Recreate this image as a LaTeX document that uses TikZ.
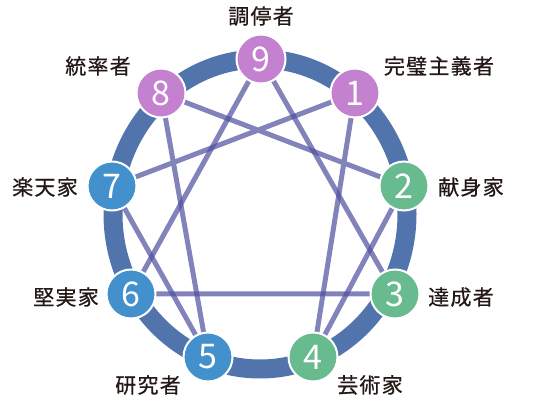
\documentclass[tikz,border=0pt]{standalone}
\usepackage{fontspec}
\setmainfont{Noto Sans CJK JP}
\newfontfamily\namefont{Noto Sans CJK JP}[LetterSpace=6, FakeBold=0.6]
\usetikzlibrary{backgrounds}
\definecolor{ringblue}{HTML}{5274AC}
\definecolor{linkblue}{HTML}{4F4FA0}
\definecolor{headpurple}{HTML}{C481CF}
\definecolor{heartgreen}{HTML}{68BB8E}
\definecolor{mindblue}{HTML}{4391CC}
\definecolor{inkbrown}{HTML}{231815}
\begin{document}
\begin{tikzpicture}[x=1pt, y=-1pt,
    point/.style={circle, draw=white, line width=2pt, minimum size=49pt, inner sep=0pt,
        text=white, font=\fontsize{34}{34}\selectfont},
    typename/.style={text=inkbrown, font=\namefont\fontsize{21}{21}\selectfont, inner sep=0pt},
    link/.style={draw=linkblue, line width=5pt, opacity=0.7},
    ring/.style={draw=ringblue, line width=19pt}
]
\useasboundingbox (0,0) rectangle (551,411);
% numbered points
\node[point, fill=headpurple] (n9) at (261,59)  {9};
\node[point, fill=headpurple] (n8) at (161,93)  {8};
\node[point, fill=headpurple] (n1) at (355,93)  {1};
\node[point, fill=mindblue]   (n7) at (112,186) {7};
\node[point, fill=heartgreen] (n2) at (404,186) {2};
\node[point, fill=mindblue]   (n6) at (131,294) {6};
\node[point, fill=heartgreen] (n3) at (395,294) {3};
\node[point, fill=mindblue]   (n5) at (208,357) {5};
\node[point, fill=heartgreen] (n4) at (313,357) {4};
% type names
\node[typename] (t9) at (261,16)  {調停者};
\node[typename] (t8) at (98,66)   {統率者};
\node[typename] (t1) at (439,66)  {完璧主義者};
\node[typename] (t7) at (45,187)  {楽天家};
\node[typename] (t2) at (471,187) {献身家};
\node[typename] (t6) at (66,297)  {堅実家};
\node[typename] (t3) at (461,297) {達成者};
\node[typename] (t5) at (148,385) {研究者};
\node[typename] (t4) at (370,385) {芸術家};
\begin{scope}[on background layer]
\draw[ring] (260,214) ellipse [x radius=147, y radius=155];
% triangle
\draw[link] (n9.center) -- (n3.center) -- (n6.center) -- cycle;
% hexad
\draw[link] (n1.center) -- (n4.center) -- (n2.center) -- (n8.center)
    -- (n5.center) -- (n7.center) -- cycle;
\end{scope}
\end{tikzpicture}
\end{document}
